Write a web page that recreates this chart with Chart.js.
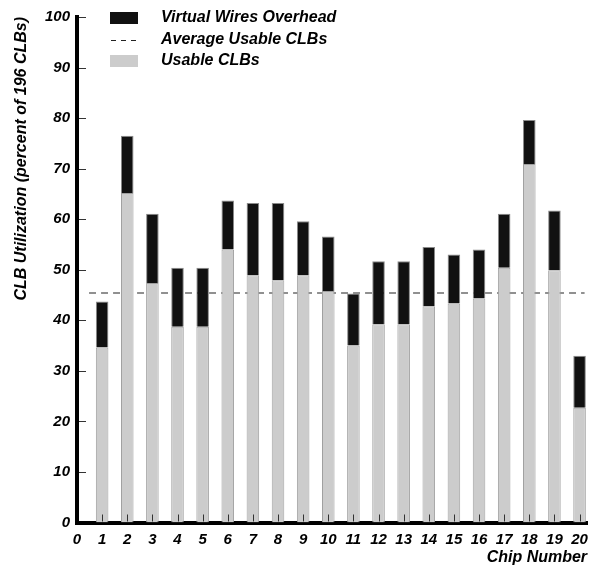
<!DOCTYPE html>
<html><head><meta charset="utf-8">
<script src="https://cdn.jsdelivr.net/npm/chart.js@4.4.1/dist/chart.umd.min.js"></script>
<style>html,body{margin:0;padding:0;background:#fff}#wrap{width:596px;height:567px;position:relative}</style>
</head><body><div id="wrap"><canvas id="c"></canvas></div>
<script>
const chipNumbers = [1,2,3,4,5,6,7,8,9,10,11,12,13,14,15,16,17,18,19,20];
const usableCLBs = [34.6,65.2,47.4,38.7,38.7,54.0,48.9,47.9,48.9,45.8,35.0,39.2,39.2,42.8,43.3,44.3,50.4,70.9,49.9,22.7];
const overheadCLBs = [9.1,11.3,13.7,11.7,11.7,9.7,14.3,15.3,10.7,10.8,10.3,12.5,12.5,11.7,9.7,9.7,10.7,8.7,11.8,10.3];
const averageUsable = 45.4;
const averageSpan = [0.48, 20.2];
const xTickValues = [0,1,2,3,4,5,6,7,8,9,10,11,12,13,14,15,16,17,18,19,20];
const yTickValues = [0,10,20,30,40,50,60,70,80,90,100];

const FONT_FAMILY = '"Liberation Sans", Arial, sans-serif';
Chart.defaults.color = '#000';
Chart.defaults.font.family = FONT_FAMILY;

const inwardTicks = {
  id: 'inwardTicks',
  afterDraw(chart) {
    const {ctx, chartArea, scales} = chart;
    ctx.save();
    ctx.strokeStyle = '#333';
    ctx.lineWidth = 1;
    ctx.beginPath();
    scales.y.ticks.forEach(t => {
      if (t.value === 0) return;
      const y = Math.round(scales.y.getPixelForValue(t.value)) + 0.5;
      ctx.moveTo(chartArea.left + 2, y);
      ctx.lineTo(chartArea.left + 9, y);
    });
    scales.x.ticks.forEach(t => {
      if (t.value === 0) return;
      const x = Math.round(scales.x.getPixelForValue(t.value)) + 0.5;
      ctx.moveTo(x, chartArea.bottom - 1);
      ctx.lineTo(x, chartArea.bottom - 8);
    });
    ctx.stroke();
    ctx.restore();
  }
};

const fixedLegend = {
  id: 'fixedLegend',
  afterDraw(chart) {
    const ctx = chart.ctx;
    const ds = chart.data.datasets;
    const order = [1, 2, 0];
    const rowsY = [18, 40, 61];
    ctx.save();
    ctx.font = 'italic bold 16px ' + FONT_FAMILY;
    ctx.textBaseline = 'middle';
    order.forEach((di, i) => {
      const d = ds[di];
      const cy = rowsY[i];
      if (d.type === 'line') {
        ctx.strokeStyle = d.borderColor;
        ctx.lineWidth = 1.2;
        ctx.setLineDash([5, 5]);
        ctx.beginPath();
        ctx.moveTo(111, cy + 0.5);
        ctx.lineTo(139, cy + 0.5);
        ctx.stroke();
        ctx.setLineDash([]);
      } else {
        ctx.fillStyle = d.backgroundColor;
        ctx.fillRect(110, cy - 6, 28, 12);
      }
      ctx.fillStyle = '#000';
      ctx.fillText(d.label, 161, cy);
    });
    ctx.restore();
  }
};

new Chart(document.getElementById('c'), {
  type: 'bar',
  data: {
    datasets: [
      {
        label: 'Usable CLBs',
        data: chipNumbers.map((x, i) => ({x, y: usableCLBs[i]})),
        backgroundColor: '#cccccc',
        borderColor: '#a0a0a0',
        borderWidth: 1,
        barPercentage: 0.5,
        categoryPercentage: 1,
        order: 1
      },
      {
        label: 'Virtual Wires Overhead',
        data: chipNumbers.map((x, i) => ({x, y: overheadCLBs[i]})),
        backgroundColor: '#111111',
        borderColor: '#8a8a8a',
        borderWidth: 1,
        barPercentage: 0.5,
        categoryPercentage: 1,
        order: 2
      },
      {
        type: 'line',
        label: 'Average Usable CLBs',
        data: averageSpan.map(x => ({x, y: averageUsable})),
        borderColor: '#222222',
        borderWidth: 1.2,
        borderDash: [7, 5],
        pointRadius: 0,
        fill: false,
        stack: 'avg',
        order: 3
      }
    ]
  },
  options: {
    responsive: true,
    maintainAspectRatio: false,
    animation: false,
    layout: {padding: {top: 17, right: 7, left: 0, bottom: 0}},
    plugins: {legend: {display: false}, tooltip: {enabled: false}},
    scales: {
      x: {
        type: 'linear',
        min: 0,
        max: 20.3,
        stacked: true,
        offset: false,
        z: 1,
        grid: {display: false, drawTicks: false},
        border: {display: true, color: '#000', width: 4},
        afterBuildTicks: s => { s.ticks = xTickValues.map(v => ({value: v})); },
        afterFit: s => { s.height = 44.5; },
        ticks: {
          autoSkip: false, maxRotation: 0, padding: 8, includeBounds: false,
          font: {size: 15, style: 'italic', weight: 'bold'}
        },
        title: {
          display: true, text: 'Chip Number', align: 'end',
          padding: {top: 0, bottom: 0},
          font: {size: 16, style: 'italic', weight: 'bold'}
        }
      },
      y: {
        min: 0,
        max: 100,
        stacked: true,
        z: 1,
        grid: {display: false, drawTicks: false},
        border: {display: true, color: '#000', width: 4},
        afterBuildTicks: s => { s.ticks = yTickValues.map(v => ({value: v})); },
        afterFit: s => { s.width = 77; },
        ticks: {
          padding: 7,
          font: {size: 15, style: 'italic', weight: 'bold'}
        },
        title: {
          display: true, text: 'CLB Utilization (percent of 196 CLBs)', align: 'end',
          padding: {top: 12, bottom: 0},
          font: {size: 16, style: 'italic', weight: 'bold'}
        }
      }
    }
  },
  plugins: [inwardTicks, fixedLegend]
});
</script>
</body></html>
